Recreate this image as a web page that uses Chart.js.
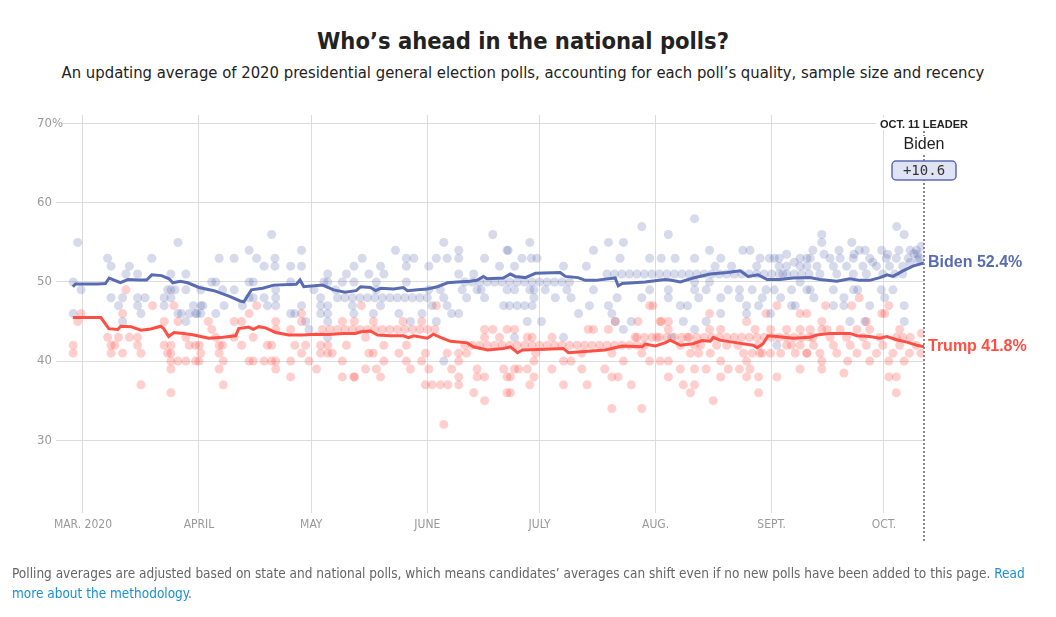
<!DOCTYPE html>
<html lang="en">
<head>
    <meta charset="UTF-8">
    <title>Who's ahead in the national polls?</title>
    <script src="https://cdn.jsdelivr.net/npm/chart.js"></script>
    <style>
        body { margin: 0; background: #fff; width: 1056px; height: 617px; overflow: hidden; position: relative; }
        .narrow { font-family: "Liberation Sans Narrow", "DejaVu Sans Condensed", "Roboto Condensed", sans-serif; }
        #title { position: absolute; top: 27px; left: 0; width: 1046px; text-align: center; font-size: 23.5px; font-weight: bold; color: #222; }
        #subtitle { position: absolute; top: 63px; left: 0; width: 1046px; text-align: center; font-size: 16.5px; color: #222; }
        #footer { position: absolute; top: 563px; left: 12px; width: 1020px; font-size: 13.5px; line-height: 20px; color: #666; }
        #footer a { color: #1a8fd6; text-decoration: none; }
        canvas { position: absolute; left: 0; top: 0; }
    </style>
</head>
<body>
    <div id="title" class="narrow">Who’s ahead in the national polls?</div>
    <div id="subtitle" class="narrow">An updating average of 2020 presidential general election polls, accounting for each poll’s quality, sample size and recency</div>
    <canvas id="pollChart" width="1056" height="617"></canvas>
    <div id="footer" class="narrow">Polling averages are adjusted based on state and national polls, which means candidates’ averages can shift even if no new polls have been added to this page. <a href="#">Read more about the methodology</a>.</div>

    <script>
        // x values are days counted from March 1, 2020
        const monthTicks = [0, 31, 61, 92, 122, 153, 184, 214];
        const monthLabels = ['MAR. 2020', 'APRIL', 'MAY', 'JUNE', 'JULY', 'AUG.', 'SEPT.', 'OCT.'];
        const yTicks = [30, 40, 50, 60, 70];
        const leaderDay = 224.7; // Oct. 11
        const leaderLabel = 'OCT. 11 LEADER';

        const bidenAverage = [[-2.7,49.4],[-2,49.75],[4,49.75],[6,49.8],[7,50.5],[10,49.9],[12,50.3],[15,50.25],[17,50.25],[18.4,50.9],[21,50.8],[23,50.4],[24,49.9],[26,50.1],[28,49.9],[31,49.3],[35,48.9],[39,48.2],[42,47.6],[43,47.5],[45,49.0],[48,49.2],[51,49.6],[57,49.7],[58,50.25],[59,49.4],[64,49.6],[67,49.0],[70,48.7],[73,48.9],[74.2,49.4],[76.8,49.3],[78.2,48.9],[79.5,49.2],[83,49.1],[85.6,49.3],[86.7,48.9],[89.4,49.0],[92,49.1],[94.7,49.4],[97.4,49.9],[100,50.0],[103.5,50.1],[105.4,50.25],[107,50.7],[108,50.4],[112.3,50.5],[114.2,51.0],[115.5,50.7],[118.2,50.55],[120.9,51.1],[127.5,51.2],[128.9,50.7],[132.3,50.55],[134.2,50.2],[136.9,50.2],[142.2,50.5],[143,49.5],[144.1,49.8],[150.2,50.0],[155.5,50.3],[156.9,50.25],[159.6,50.0],[163,50.5],[167.6,51.0],[172.1,51.2],[175.6,51.4],[177.7,50.7],[180.4,50.9],[182.8,50.3],[186.2,50.3],[189.7,50.5],[194.2,50.55],[196.9,50.3],[201.4,50.1],[204.9,50.4],[207.5,50.2],[210.2,50.2],[212.9,50.55],[214.8,50.9],[216.4,50.7],[219.1,51.4],[221.7,52.0],[224.7,52.4]];

        const trumpAverage = [[-2.7,45.5],[4.8,45.5],[6.9,44.1],[9.3,44.0],[10.1,44.4],[12.8,44.35],[15.5,43.9],[18.1,44.05],[20.8,44.4],[21.6,44.1],[22.9,43.1],[24.3,43.6],[26.9,43.5],[29.6,43.3],[31.5,43.1],[33.6,42.9],[37.4,43.0],[40.8,43.2],[41.6,44.1],[44.3,44.3],[45.5,44.0],[47,44.35],[48.8,44.2],[51.5,43.6],[55,43.3],[58.7,43.3],[62.2,43.4],[65.6,43.35],[69.4,43.5],[72.8,43.5],[74.2,43.7],[76.8,43.8],[78.7,43.3],[82.2,43.2],[85.6,43.2],[87,42.95],[88.3,43.2],[92,42.9],[93.6,43.4],[95.5,43.0],[98.2,42.5],[102.7,42.3],[104.3,41.8],[108.1,41.4],[112.3,41.6],[114.2,41.8],[114.7,41.6],[116.1,41.05],[117.4,41.4],[123.5,41.5],[128.3,41.6],[129.7,41.05],[134.2,41.2],[139.5,41.4],[144.1,41.9],[149.4,41.8],[150.2,42.15],[152.9,41.9],[155.5,42.3],[156.9,42.65],[159.6,42.0],[163,42.2],[165.4,42.6],[167.6,42.5],[168.4,43.0],[170.2,42.65],[174.8,42.3],[179,42.0],[180.1,41.7],[181.7,42.2],[183,43.2],[185.4,43.1],[189.7,42.9],[194.2,43.0],[196.1,43.3],[199.6,43.5],[204.9,43.5],[206.8,43.2],[210.2,43.1],[212.9,42.9],[214.8,43.1],[217.4,42.7],[220.1,42.4],[222.8,42.0],[224.7,41.8]];

        const bidenPolls = [
            [-1.4,55],[-2.6,50],[-0.5,49],[-2.6,46],[6.6,53],[7.5,52],[7.5,48],[9.5,47],[10.6,48],[10.6,45],[12.4,52],[11.5,51],[14.6,51],[14.6,48],[14.6,47],[15.5,46],[16.6,48],[18.4,53],[21.7,48],[21.7,47],[22.6,49],[23.5,51],[23.5,49],[23.5,48],[24.6,49],[25.4,55],[25.4,46],[26.3,46],[27.5,51],[27.5,49],[27.5,45],[28.4,46],[29.5,47],[30.1,46],[31.5,47],[31.5,46],
            [50.4,56],[44.4,54],[36.4,53],[40.4,53],[46.4,53],[48.4,52],[51.3,53],[51.3,52],[55.5,52],[58.4,54],[58.4,52],[34.4,50],[35.5,50],[31.5,49],[32,47],[30.5,46],[35.5,46],[37.3,49],[37.7,47],[40.4,49],[42.6,47],[44.4,50],[45.5,50],[44.4,48],[45.5,48],[48.4,48],[49.3,47],[51.5,49],[51.5,48],[51.5,47],[55.5,50],[55.5,46],[56.6,46],[58.4,47],[59.5,45],[60.4,44],[61.7,49],[63.5,48],[63.5,47],[63.5,46],[64.4,50],[65.4,51],[65.4,50],[65.4,47],[65.4,46],[65.4,45],[65.4,43],[67.5,49],[69.3,50],[70.4,51],[72.4,52],[72.4,46],
            [74.6,53],[76.4,51],[79.5,52],[80.4,51],[83.5,54],[86.4,53],[88.4,53],[86.4,52],[92.4,52],[94.4,53],[96.4,55],[97.3,53],[100.4,54],[100.4,53],[100.4,51],[104.4,51],[107.3,53],[109.5,56],[111.3,52],[113.3,54],[72.4,50],[72,47],[77.6,46],[78.4,50],[78.4,49],[79.5,47],[84.4,46],[86.4,50],[87.5,45],[90.6,46],[92.4,49],[93.3,47],[94.4,45],[95.5,49],[96.4,48],[97.3,47],[98.5,46],[100.4,46],[101.3,49],[102.5,48],[105.3,49],[106.4,49],[107.3,48],[112.4,47],[113.3,49],[96.4,40],
            [113.6,54],[119.4,55],[119.8,53],[115.3,52],[117.3,53],[121.3,53],[128.4,52],[134.5,52],[136.4,54],[140.4,55],[144.4,55],[143.5,53],[149.3,57],[151.4,53],[154.5,53],[115.3,49],[119.4,49],[120.5,49],[120.5,48],[123.5,49],[126.2,48],[129.3,49],[130.4,48],[122.5,45],[118.7,45],[115.3,43],[128.4,43],[132.4,46],[135.3,47],[136.4,49],[140.4,47],[141.3,46],[142.2,45],[144.4,44],[142.7,48],[146.5,45],[149.3,48],[151.4,49],
            [163.4,58],[156.4,56],[158.2,53],[163.4,53],[167.4,54],[170.4,53],[176.3,54],[178.2,54],[180.9,53],[183.4,53],[184.7,53],[188,52],[191.6,52],[193.4,53],[156.4,49],[156.4,48],[159.6,47],[161.5,47],[163.4,49],[163.4,50],[164.5,48],[166.5,49],[167.4,50],[170.4,48],[170.4,46],[172.4,49],[175.4,49],[175.4,48],[177.3,47],[177.3,46],[178.8,49],[180.5,47],[181.5,48],[182.5,49],[183.7,46],[184.7,49],[186.4,48],[189.3,49],[189.3,47],[190.3,47],[191.6,50],[193.4,49],[168.9,52],[173.3,52],[180,52],[186,52],[160.4,45],[166.5,45],[163.4,44],[157.3,43],[185.4,42],
            [217.4,57],[219.4,56],[197.4,56],[197.4,55],[205.4,55],[207.4,54],[213.4,54],[222.7,54],[224,54.5],[222,53.6],[220.5,53],[191.6,53],[194.3,53],[199.6,53],[202.3,53],[205.8,53],[210.2,53],[214.6,53],[217.3,53],[193.4,52],[196.1,52],[200.5,52],[204,52],[208.4,52],[212,52],[215.5,52],[219,52],[223,52.8],[196.9,51],[201.4,51],[205.8,51],[209.3,51],[213.7,51],[216.9,51],[194.3,49],[200.5,49],[195.3,48],[203.3,48],[205.9,49],[207,49],[213.3,49],[214.2,48],[216.4,49],[200.5,47],[203.3,47],[210.2,47],[219.4,47],[204.9,45],[208.9,45],[219.4,45],
            [186,53],[188,53.5],[190,52.5],[195,54],[198,53.5],[202,54],[206,53.5],[209,54],[211,52.5],[215,53.5],[218,54],[221,54],[223,53.5],[187,51],[219,51],[221,52.5],[223.5,53]
        ];

        // daily tracking polls, read as rows of dots
        const bidenTracker = [
            [68,48],[70,48],[72,48],[74,48],[76,48],[78,48],[80,48],[82,48],[84,48],[86,48],[88,48],[90,48],[92,48],
            [102,50],[104,50],[106,50],[108,50],[110,50],[112,50],[114,50],[116,50],[118,50],[120,50],[122,50],[124,50],[126,50],[128,50],[130,50],
            [114,47],[116,47],[118,47],[120,47],
            [140,51],[142,51],[144,51],[146,51],[148,51],[150,51],[152,51],[154,51],[156,51],[158,51],[160,51],[162,51],[164,51],[166,51],[168,51],[170,51],[172,51],[174,51],[176,51],[178,51],[180,51],[182,51],[184,51],[186,51],[188,51],[190,51],[192,51],[194,51]
        ];

        const trumpPolls = [
            [-2.6,42],[-2.6,41],[-0.5,46],[-1.4,45],[6.6,43],[7.5,42],[7.5,41],[8.5,42],[9.5,43],[10.6,46],[10.6,41],[11.5,49],[12.4,43],[14.6,43],[14.6,42],[15.5,41],[15.5,37],[18.6,47],[21.7,45],[21.7,42],[22.6,41],[23.5,42],[23.5,41],[23.5,40],[23.5,39],[23.5,36],[24.3,47],[25.4,45],[25.4,40],[27.5,43],[27.5,40],[28.4,42],[30.1,42],[30.1,40],[31.5,41],
            [31.1,42],[31,40],[33.5,45],[34.4,44],[35.5,43],[36.4,42],[36.4,41],[36.4,39],[37.3,42],[37.5,40],[37.5,37],[40.4,45],[40.4,43],[42.4,45],[42.4,42],[44.4,46],[44.4,40],[45.5,43],[45.5,40],[46.4,47],[48.4,40],[49.3,42],[50.4,42],[50.4,40],[51.5,45],[51.5,44],[51.5,40],[51.5,39],[55.5,44],[55.5,40],[55.5,38],[56.6,42],[58.4,46],[58.4,45],[58.4,41],[59.5,42],[60.4,40],[62.4,39],[63.5,42],[63.5,41],[65.4,42],[65.4,41],[66.6,41],[69.3,45],[69.3,40],[69.3,38],[70.4,42],[72.4,38],
            [74.4,47],[72.5,45],[72.5,38],[75.5,43],[75.5,39],[77.6,45],[76.4,41],[77.6,41],[78.4,39],[79.5,38],[80.4,40],[80.4,42],[84.4,41],[85.5,45],[86.4,42],[86.4,40],[87.5,39],[90.5,45],[90.5,40],[91.5,41],[91.5,37],[92.4,39],[93.3,37],[94.4,47],[95.5,37],[96.4,32],[97.3,41],[97.5,37],[98.5,39],[100.4,41],[100.4,40],[100.4,38],[100.4,37],[102.5,41],[104.4,36],[105.3,39],[105.3,38],[107.3,44],[107.3,43],[107.3,38],[107.3,35],[109.5,44],[111.3,43],[112.4,39],[113.3,44],[113.3,38],[113.3,36],
            [115.3,44],[114.2,38],[114.2,36],[115.3,39],[116.4,39],[118.7,43],[118.7,39],[119.4,37],[120,43],[120.5,40],[120.5,38],[121,41],[125.3,43],[125.3,39],[128.4,37],[128.4,40],[130.4,40],[133.3,41],[133.3,39],[134.7,37],[135,44],[136.4,44],[139.4,39],[140.4,44],[141.3,41],[141.3,38],[141.3,34],[142.2,45],[143,38],[144.4,40],[146.5,37],[147.5,43],[148.3,45],[149.3,41],[149.3,34],[151.4,47],[152.3,47],[151.4,40],[153.3,43],[154.5,45],
            [156.4,45],[154.2,45],[156.4,44],[154.2,40],[156.4,40],[156.4,38],[159.6,39],[160.4,37],[161.5,43],[162.3,41],[162.3,36],[163.4,42],[163.4,39],[163.4,37],[164.5,41],[166.5,39],[167.4,46],[167.4,44],[167.6,41],[168.4,35],[170.4,44],[170.4,40],[170.4,38],[172.4,39],[175.4,39],[176.5,41],[177.3,45],[177.3,40],[177.3,38],[178.2,39],[179.6,44],[180.5,42],[180.5,38],[180.5,36],[181.5,41],[182.5,46],[183.7,41],[183.7,44],[185.4,47],[185.4,38],[186.4,41],[188,44],[189.3,42],[190.3,41],[191.6,44],[193.4,41],[191.6,39],[188,42],[175,42],[172,42],[169.3,42],[165,42],[159.6,42],[180.8,41],[178.8,41],
            [191.6,46],[193.4,46],[198.4,47],[197.4,45],[197.4,44],[205.4,47],[207.4,48],[213.4,46],[214.2,46],[215.3,47],[194.3,44],[198.8,44],[202.3,44],[206.8,44],[209.3,45],[210.2,44],[218.2,44],[219,43],[221,43],[224,43.5],[191.6,42],[195.2,42],[200.5,42],[205,42],[209.3,42],[213.7,42],[218.2,42],[222.6,42],[193.4,41],[196.9,41],[201.4,41],[206.8,41],[212,41],[216.4,41],[220.8,41],[223.9,41],[197.4,40],[204.3,40],[210.2,40],[219.4,40],[215.3,40],[197.4,39],[203.3,38.5],[215.3,38],[217.3,38],[217.3,36],[195,43],[199.6,43],[204,43],[208.4,43],[212.9,43],[217.3,43]
        ];

        const trumpTracker = [
            [64,44],[66,44],[68,44],[70,44],[72,44],[74,44],[76,44],[78,44],[80,44],[82,44],[84,44],[86,44],[88,44],[90,44],[92,44],[94,44],
            [102,42],[104,42],[106,42],[108,42],[110,42],[112,42],[114,42],[116,42],[118,42],[120,42],[122,42],[124,42],[126,42],[128,42],[130,42],[132,42],[134,42],[136,42],[138,42],[140,42],[142,42],[144,42],[146,42],[148,42],[150,42],
            [148,43],[150,43],[152,43],[154,43],[156,43],[158,43],[160,43],[162,43],[164,43],[166,43],[168,43],[170,43],[172,43],[174,43],[176,43],[178,43],[180,43],[182,43],[184,43],[186,43],[188,43],[190,43],[192,43],[194,43]
        ];

        const bidenColor = '#5a6cb1';
        const trumpColor = '#ff4f45';
        const narrowFont = '"Liberation Sans Narrow", "DejaVu Sans Condensed", sans-serif';

        const toPoints = pairs => pairs.map(p => ({ x: p[0], y: p[1] }));

        const bidenNow = bidenAverage[bidenAverage.length - 1][1];
        const trumpNow = trumpAverage[trumpAverage.length - 1][1];

        const overlayPlugin = {
            id: 'overlay',
            afterDraw(chart) {
                const { ctx, scales: { x, y } } = chart;
                ctx.save();

                // y tick labels
                ctx.font = '13px ' + narrowFont;
                ctx.textBaseline = 'middle';
                ctx.textAlign = 'left';
                yTicks.forEach(v => {
                    const py = y.getPixelForValue(v);
                    const label = v === 70 ? '70%' : String(v);
                    if (v === 70) {
                        ctx.fillStyle = '#fff';
                        ctx.fillRect(34, py - 4, 28, 8);
                    }
                    ctx.fillStyle = '#999';
                    ctx.fillText(label, 37, py);
                });

                // leader line
                const lx = x.getPixelForValue(leaderDay);
                ctx.strokeStyle = '#8a8a8a';
                ctx.lineWidth = 2;
                ctx.setLineDash([2, 2]);
                ctx.beginPath();
                ctx.moveTo(lx, 131);
                ctx.lineTo(lx, 542);
                ctx.stroke();
                ctx.setLineDash([]);

                // leader header
                ctx.font = 'bold 11px "Liberation Sans", sans-serif';
                ctx.textAlign = 'center';
                const w = ctx.measureText(leaderLabel).width;
                ctx.fillStyle = '#fff';
                ctx.fillRect(lx - w / 2 - 4, y.getPixelForValue(70) - 6, w + 8, 12);
                ctx.fillStyle = '#222';
                ctx.fillText(leaderLabel, lx, y.getPixelForValue(70) + 1);

                ctx.font = '16px "Liberation Sans", sans-serif';
                ctx.fillStyle = '#fff';
                ctx.fillRect(lx - 24, 136, 48, 18);
                ctx.fillStyle = '#222';
                ctx.fillText(bidenNow > trumpNow ? 'Biden' : 'Trump', lx, 145);

                // margin box
                const bx = lx - 32, by = 161, bw = 64, bh = 19, r = 4;
                ctx.beginPath();
                ctx.roundRect(bx, by, bw, bh, r);
                ctx.fillStyle = '#dfe3f3';
                ctx.fill();
                ctx.strokeStyle = bidenColor;
                ctx.lineWidth = 1.5;
                ctx.stroke();
                ctx.font = '14px "DejaVu Sans Mono", monospace';
                ctx.fillStyle = '#333';
                ctx.fillText('+' + Math.abs(bidenNow - trumpNow).toFixed(1), lx, by + bh / 2 + 1);

                // end labels
                ctx.font = 'bold 16px "Liberation Sans", sans-serif';
                ctx.textAlign = 'left';
                ctx.fillStyle = bidenColor;
                ctx.fillText('Biden ' + bidenNow.toFixed(1) + '%', lx + 4, y.getPixelForValue(bidenNow));
                ctx.fillStyle = trumpColor;
                ctx.fillText('Trump ' + trumpNow.toFixed(1) + '%', lx + 4, y.getPixelForValue(trumpNow));

                ctx.restore();
            }
        };

        const ctx = document.getElementById('pollChart').getContext('2d');
        new Chart(ctx, {
            type: 'scatter',
            data: {
                datasets: [
                    {
                        label: 'Biden average',
                        data: toPoints(bidenAverage),
                        showLine: true,
                        borderColor: bidenColor,
                        borderWidth: 3,
                        pointRadius: 0,
                        tension: 0
                    },
                    {
                        label: 'Trump average',
                        data: toPoints(trumpAverage),
                        showLine: true,
                        borderColor: trumpColor,
                        borderWidth: 3,
                        pointRadius: 0,
                        tension: 0
                    },
                    {
                        label: 'Biden polls',
                        data: toPoints(bidenPolls.concat(bidenTracker)),
                        backgroundColor: 'rgba(90,108,177,0.25)',
                        borderWidth: 0,
                        pointRadius: 4.5
                    },
                    {
                        label: 'Trump polls',
                        data: toPoints(trumpPolls.concat(trumpTracker)),
                        backgroundColor: 'rgba(255,79,69,0.27)',
                        borderWidth: 0,
                        pointRadius: 4.5
                    }
                ]
            },
            options: {
                responsive: false,
                animation: false,
                layout: { padding: { left: 56, right: 132, top: 115, bottom: 79.6 } },
                plugins: { legend: { display: false }, tooltip: { enabled: false } },
                scales: {
                    x: {
                        type: 'linear',
                        min: -7.2,
                        max: leaderDay,
                        afterBuildTicks: axis => { axis.ticks = monthTicks.map(v => ({ value: v })); },
                        ticks: {
                            callback: (value) => monthLabels[monthTicks.indexOf(value)],
                            color: '#999',
                            padding: 5,
                            maxRotation: 0,
                            autoSkip: false,
                            font: { family: narrowFont, size: 12 }
                        },
                        grid: { color: '#dcdcdc', drawTicks: false },
                        border: { display: false }
                    },
                    y: {
                        min: 20.8,
                        max: 71.1,
                        afterBuildTicks: axis => { axis.ticks = yTicks.map(v => ({ value: v })); },
                        ticks: { display: false },
                        grid: { color: '#dcdcdc', drawTicks: false },
                        border: { display: false }
                    }
                }
            },
            plugins: [overlayPlugin]
        });
    </script>
</body>
</html>
